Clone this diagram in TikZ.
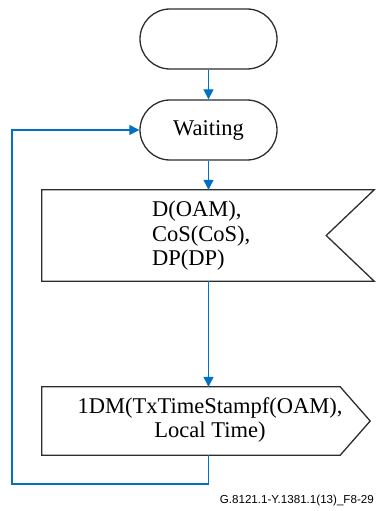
\documentclass[tikz,border=0pt]{standalone}
\usepackage{fontspec}
\setmainfont{Liberation Serif}
\newfontfamily\capfont{Liberation Sans}
\usetikzlibrary{arrows.meta,calc}
\definecolor{flowblue}{RGB}{0,114,198}
\definecolor{shapeline}{RGB}{45,45,45}
\tikzset{
  term/.style={draw=shapeline,line width=1.3pt,rounded corners=30pt,minimum width=137pt,minimum height=60pt,inner sep=0pt,font=\fontsize{22.5}{25}\selectfont},
  boxarea/.style={draw=none,inner sep=0pt},
  outline/.style={draw=shapeline,line width=1.3pt,line join=miter},
  txt/.style={inner sep=0pt,font=\fontsize{22.5}{24.5}\selectfont},
  flow/.style={draw=flowblue,line width=1.2pt,-{Triangle[length=10pt,width=10pt]}},
  flowline/.style={draw=flowblue,line width=1.2pt}
}
\begin{document}
\begin{tikzpicture}[x=1pt,y=-1pt]
\useasboundingbox (0,0) rectangle (375,511);
\node[term] (start) at (208.5,39) {};
\node[term] (wait) at (208.5,130) {Waiting};
\node[boxarea,minimum width=332pt,minimum height=91pt] (recv) at (208,235.5) {};
\draw[outline] (recv.north west) -- (recv.north east) -- ($(recv.east)+(-48,0)$) -- (recv.south east) -- (recv.south west) -- cycle;
\node[txt,align=left,anchor=west] (recvtext) at (152,236) {D(OAM),\\CoS(CoS),\\DP(DP)};
\node[boxarea,minimum width=298pt,minimum height=68pt] (send) at (191,421) {};
\draw[outline] (send.north west) -- (send.north east) -- ($(send.east)+(30,0)$) -- (send.south east) -- (send.south west) -- cycle;
\node[txt,align=center] (sendtext) at (210,420) {1DM(TxTimeStampf(OAM),\\Local Time)};
\coordinate (fb) at (12,484);
\draw[flow] (start.south) -- (wait.north);
\draw[flow] (wait.south) -- (recv.north -| wait.south);
\draw[flow] (recv.south -| wait.south) -- (send.north -| wait.south);
\draw[flow] (send.south -| wait.south) |- (fb) |- (wait.west);
\node[anchor=east,inner sep=0pt,font=\capfont\fontsize{11.6}{13}\selectfont] (cap) at (374,500) {G.8121.1-Y.1381.1(13)\_F8-29};
\end{tikzpicture}
\end{document}
